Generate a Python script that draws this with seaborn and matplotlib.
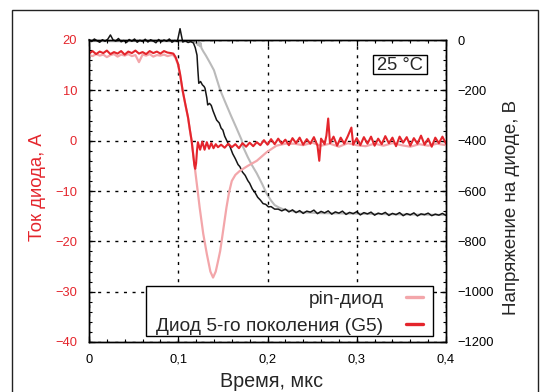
import numpy as np
import seaborn as sns
import matplotlib.pyplot as plt
from matplotlib.lines import Line2D
from matplotlib.patches import Rectangle
from matplotlib.path import Path
from matplotlib.ticker import MultipleLocator

# ---- values ----
# time axis, mks
x_ticks = [0, 0.1, 0.2, 0.3, 0.4]
x_labels = ["0", "0,1", "0,2", "0,3", "0,4"]
# left axis: diode current, A
y_ticks = [-40, -30, -20, -10, 0, 10, 20]
y_labels = ["\u221240", "\u221230", "\u221220", "\u221210", "0", "10", "20"]
# right axis: diode voltage, V
v_ticks = [-1200, -1000, -800, -600, -400, -200, 0]
v_labels = ["\u22121200", "\u22121000", "\u2212800", "\u2212600", "\u2212400", "\u2212200", "0"]

# voltage, G5 diode (black)
v_g5_flat = [2, -6, 4, -3, -9, 1, -5, 3, 20, 0, -4, 6, -7, -2, -10, 2, -5, 4, -9, -1,
             -6, 3, -8, 1, -4, -11, 2, -7, 0, -5, 4, -9, -2, -6, 45, -8, -3, -10, -6]
t_v_g5_fall = [0.117, 0.119, 0.121, 0.122, 0.123, 0.125, 0.127, 0.129, 0.130, 0.132,
               0.133, 0.135, 0.137, 0.139, 0.141, 0.143, 0.146, 0.148, 0.150, 0.152,
               0.154, 0.156, 0.158, 0.161, 0.164, 0.167, 0.169, 0.172, 0.175, 0.178,
               0.180, 0.183, 0.186, 0.189, 0.192, 0.195, 0.198, 0.201, 0.204, 0.208,
               0.212, 0.216]
v_g5_fall = [-12, -30, -60, -120, -172, -165, -178, -185, -192, -230,
             -258, -252, -260, -282, -300, -318, -330, -350, -358, -382,
             -397, -412, -424, -452, -472, -495, -503, -525, -538, -559,
             -569, -592, -606, -625, -636, -650, -653, -663, -662, -672,
             -672, -679]
v_g5_tail = [-672, -683, -675, -686, -678, -689, -680, -684, -676, -690, -681, -687,
             -679, -692, -683, -688, -680, -693, -685, -690, -682, -695, -686, -691,
             -684, -696, -688, -692, -685, -697, -689, -694, -686, -698, -690, -695,
             -687, -699, -691, -694, -688, -698, -692, -696, -689, -697]

# voltage, pin diode (gray)
t_v_pin = [0, 0.03, 0.06, 0.09, 0.11, 0.118, 0.121, 0.122, 0.123, 0.124, 0.125, 0.126,
           0.128, 0.131, 0.1356, 0.140, 0.147, 0.153, 0.159, 0.165, 0.171, 0.1725,
           0.178, 0.183, 0.188, 0.194, 0.199, 0.204, 0.208, 0.213, 0.218, 0.225,
           0.235, 0.26, 0.3, 0.35, 0.4]
v_pin = [-4, -5, -4, -5, -6, -8, -14, -20, -8, -25, -12, -32,
         -45, -62, -91, -120, -199, -250, -300, -348, -397, -424,
         -466, -500, -530, -572, -610, -638, -656, -666, -673, -679,
         -684, -688, -690, -693, -695]

# current, G5 diode (red)
i_g5_flat = [17.3, 17.8, 17.2, 17.7, 17.4, 17.9, 17.2, 17.6, 17.3, 17.8, 17.1, 17.7,
             17.4, 17.9, 17.3, 17.6, 17.2, 17.8, 17.4, 17.7, 17.3, 17.8, 17.5, 17.4]
t_i_g5_drop = [0.0945, 0.097, 0.0997, 0.102, 0.105, 0.108, 0.111, 0.113, 0.115, 0.117,
               0.118, 0.119, 0.120, 0.121, 0.122, 0.1245, 0.127, 0.1295, 0.132, 0.1345,
               0.137, 0.1395, 0.142, 0.1445]
i_g5_drop = [17.3, 16.6, 15.3, 13.3, 9.9, 7.2, 4.6, 2.2, 0.0, -3.2,
             -4.8, -5.6, -4.5, -2.0, -0.3, -1.8, -0.2, -1.8, -0.3, -1.6,
             -0.5, -1.5, -0.7, -1.3]
t_i_g5_tail = [0.148, 0.152, 0.156, 0.160, 0.164, 0.168, 0.172, 0.176, 0.180, 0.184,
               0.188, 0.192, 0.196, 0.200, 0.204, 0.208, 0.212, 0.216, 0.220, 0.224,
               0.228, 0.232, 0.236, 0.240, 0.244, 0.248, 0.252, 0.256, 0.258, 0.260,
               0.264, 0.266, 0.268, 0.270, 0.274, 0.278, 0.282, 0.286, 0.290, 0.294,
               0.296, 0.300, 0.304, 0.308, 0.312, 0.316, 0.320, 0.324, 0.328, 0.332,
               0.336, 0.340, 0.344, 0.348, 0.352, 0.356, 0.360, 0.364, 0.368, 0.372,
               0.376, 0.380, 0.384, 0.388, 0.392, 0.396, 0.400]
i_g5_tail = [-0.8, -1.4, -0.6, -1.3, -0.7, -1.5, -0.5, -1.2, -0.4, -1.1,
             -0.3, -0.9, 0.1, -0.8, 0.3, -0.7, 0.4, -0.6, 0.2, -0.9,
             0.5, -0.5, 0.6, -0.8, 0.3, -0.6, 0.7, -1.0, -4.0, 0.4,
             -0.7, 1.0, 4.4, -0.5, 0.8, -1.0, 0.6, -0.6, 0.9, 2.6,
             -0.8, 0.5, -0.9, 0.7, -0.6, 0.8, -1.0, 0.4, -0.7, 0.9,
             -0.5, 0.6, -1.1, 0.8, -0.4, 0.7, -1.0, 0.5, -0.6, 1.0,
             -0.8, 0.4, -1.2, 0.6, -0.5, 0.8, -0.6]

# current, pin diode (pink)
i_pin_flat = [17.0, 16.8, 17.2, 16.9, 17.1, 16.6, 17.0, 17.2, 16.7, 17.1, 16.9, 17.2,
              16.8, 17.0, 15.6, 17.1, 16.9, 17.2, 16.7, 17.0, 16.9, 17.1, 16.8, 17.0]
t_i_pin_drop = [0.0945, 0.097, 0.0997, 0.102, 0.105, 0.108, 0.111, 0.113, 0.115, 0.117,
                0.119, 0.1215, 0.124, 0.128, 0.132, 0.136, 0.139, 0.142, 0.1445, 0.147,
                0.151, 0.154, 0.157, 0.160, 0.164, 0.169, 0.178, 0.188, 0.199, 0.210,
                0.22]
i_pin_drop = [17.0, 16.4, 15.1, 13.1, 9.8, 7.1, 4.5, 2.1, -0.1, -3.0,
              -6.0, -9.6, -13.3, -18.5, -22.5, -26.0, -27.2, -26.0, -24.0, -21.9,
              -17.0, -13.3, -10.2, -8.0, -6.8, -6.0, -5.0, -4.0, -2.3, -1.0,
              -0.6]
i_pin_tail = [-0.6, -0.9, -0.4, -1.0, -0.6, -1.2, -0.5, -0.9, -1.1, -0.6, -1.0, -0.5,
              -0.9, -1.2, -0.7, -1.0, -0.6, -0.9]

legend_labels = ["pin-диод", "Диод 5-го поколения (G5)"]

# ---- assemble traces ----
t_v_g5 = np.concatenate([np.linspace(0, 0.114, len(v_g5_flat)), t_v_g5_fall,
                         np.linspace(0.22, 0.40, len(v_g5_tail))])
v_g5 = np.concatenate([v_g5_flat, v_g5_fall, v_g5_tail])
t_i_g5 = np.concatenate([np.linspace(0, 0.092, len(i_g5_flat)), t_i_g5_drop, t_i_g5_tail])
i_g5 = np.concatenate([i_g5_flat, i_g5_drop, i_g5_tail])
t_i_pin = np.concatenate([np.linspace(0, 0.092, len(i_pin_flat)), t_i_pin_drop,
                          np.linspace(0.23, 0.40, len(i_pin_tail))])
i_pin = np.concatenate([i_pin_flat, i_pin_drop, i_pin_tail])

RED = "#e4252c"
PINK = "#f3a6aa"
GRAY = "#bababa"
BLACK = "#161616"

sns.set_theme(style="ticks", rc={
    "axes.edgecolor": "black", "axes.linewidth": 1.0,
    "xtick.direction": "in", "ytick.direction": "in",
    "xtick.color": "black", "ytick.color": "black",
})
plt.rcParams["font.family"] = ["Liberation Sans", "DejaVu Sans"]


def rect_box(padx, pad_bottom, pad_top):
    # plain rectangle with its own horizontal / bottom / top padding
    def box(x0, y0, width, height, mutation_size):
        px = padx * mutation_size
        b = y0 - pad_bottom * mutation_size
        t = y0 + height + pad_top * mutation_size
        return Path([(x0 - px, b), (x0 + width + px, b), (x0 + width + px, t),
                     (x0 - px, t), (x0 - px, b)], closed=True)
    return box


fig = plt.figure(figsize=(5.42, 3.92), dpi=100)
ax = fig.add_axes([89 / 542, 1 - 342 / 392, 357 / 542, 302 / 392])
ax2 = ax.twinx()

sns.lineplot(x=t_v_pin, y=v_pin, ax=ax2, color=GRAY, linewidth=1.5,
             estimator=None, sort=False, legend=False)
sns.lineplot(x=t_v_g5, y=v_g5, ax=ax2, color=BLACK, linewidth=1.1,
             estimator=None, sort=False, legend=False, clip_on=False)
sns.lineplot(x=t_i_pin, y=i_pin, ax=ax, color=PINK, linewidth=1.6,
             estimator=None, sort=False, legend=False)
sns.lineplot(x=t_i_g5, y=i_g5, ax=ax, color=RED, linewidth=1.5,
             estimator=None, sort=False, legend=False)

ax.set_zorder(ax2.get_zorder() + 1)
ax.patch.set_visible(False)

ax.set_xlim(0, 0.4)
ax.set_ylim(-40, 20)
ax2.set_ylim(-1200, 0)
ax.set_xticks(x_ticks, x_labels)
ax.set_yticks(y_ticks, y_labels)
ax2.set_yticks(v_ticks, v_labels)
ax.xaxis.set_minor_locator(MultipleLocator(0.02))
ax.yaxis.set_minor_locator(MultipleLocator(2))
ax2.yaxis.set_minor_locator(MultipleLocator(40))
ax.set_xlabel("")
ax.set_ylabel("")
ax2.set_ylabel("")

ax.tick_params(which="both", direction="in", top=True, right=False, labelsize=9.3, pad=8.5)
ax.tick_params(which="major", length=4, width=0.9)
ax.tick_params(which="minor", length=2.5, width=0.8)
ax.tick_params(axis="y", labelcolor=RED)
ax2.tick_params(which="both", direction="in", right=True, labelsize=9.3, pad=8.5, labelcolor="black")
ax2.tick_params(which="major", length=4, width=0.9)
ax2.tick_params(which="minor", length=2.5, width=0.8)

ax.grid(True, which="major", color="black", linestyle=(0, (2.2, 4.0)), linewidth=1.0)

# legend with handles on the right
handles = [Line2D([], [], color=PINK, linewidth=2.4), Line2D([], [], color=RED, linewidth=2.4)]
leg = ax.legend(handles, legend_labels, loc="lower right", bbox_to_anchor=(0.938, 0.0199),
                borderaxespad=0, markerfirst=False, fontsize=13.8, frameon=True,
                fancybox=False, framealpha=1, edgecolor="black", facecolor="white",
                borderpad=0.05, labelspacing=0.5, handlelength=0.9, handletextpad=1.15)
leg.get_frame().set_linewidth(1.0)
leg.get_frame().set_boxstyle(rect_box(0.5, 0.02, 0.2))

ax.text(0.871, 0.914, "25 \u00b0C", transform=ax.transAxes, ha="center", va="center",
        fontsize=13.2, bbox=dict(boxstyle=rect_box(0.2, -0.03, 0.13), fc="white", ec="black", lw=1.0))

# axis titles
fig.text(37 / 542, 1 - 187 / 392, "Ток диода, А", rotation=90, ha="center", va="center",
         color=RED, fontsize=13.3)
fig.text(511 / 542, 1 - 207 / 392, "Напряжение на диоде, В", rotation=90, ha="center",
         va="center", fontsize=13.5)
fig.text(271 / 542, 5 / 392, "Время, мкс", ha="center", va="baseline", fontsize=14.2)

# outer frame of the figure
fig.add_artist(Rectangle((12 / 542, -0.05), 526 / 542, 1.05 - 10 / 392, transform=fig.transFigure,
                         fill=False, edgecolor="#222222", linewidth=1.0))

fig.savefig("out.png", dpi=100)
